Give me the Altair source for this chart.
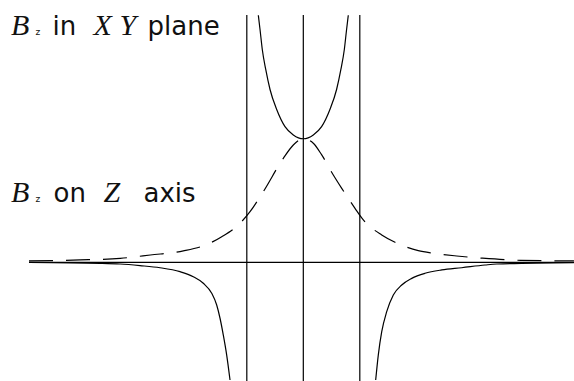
import altair as alt
import pandas as pd

# Field of a circular current loop (radius = 1), normalised to the centre value.
# Solid: B_z in the loop plane, inside the loop (diverges at r -> 1).
inner_x = [-0.796, -0.766, -0.726, -0.665, -0.589, -0.471, -0.324, -0.177, 0.0,
           0.177, 0.324, 0.471, 0.589, 0.665, 0.726, 0.766, 0.796]
inner_y = [2.00, 1.885, 1.723, 1.561, 1.399, 1.237, 1.098, 1.031, 1.0,
           1.031, 1.098, 1.237, 1.399, 1.561, 1.723, 1.885, 2.00]

# Solid: B_z in the loop plane, outside the loop (negative, returns to 0).
outer_left_x = [-4.855, -3.598, -3.242, -2.890, -2.536, -2.182, -1.947, -1.770,
                -1.621, -1.533, -1.474, -1.416, -1.356, -1.297]
outer_left_y = [0.0, -0.008, -0.014, -0.027, -0.044, -0.076, -0.117, -0.170,
                -0.251, -0.346, -0.453, -0.589, -0.751, -0.953]
outer_right_x = [1.281, 1.327, 1.388, 1.476, 1.593, 1.742, 1.919, 2.154, 2.450,
                 2.804, 3.216, 3.423, 4.79]
outer_right_y = [-0.953, -0.751, -0.562, -0.400, -0.265, -0.184, -0.130, -0.089,
                 -0.062, -0.044, -0.022, -0.014, -0.002]

# Dashed: B_z along the symmetry (Z) axis.
axis_x = [-4.855, -3.95, -3.24, -2.708, -2.124, -1.681, -1.444, -1.120, -0.943,
          -0.708, -0.354, -0.177, 0.0, 0.177, 0.326, 0.531, 0.680, 0.915, 1.062,
          1.388, 1.623, 2.035, 2.301, 2.715, 3.172, 3.844, 4.79]
axis_y = [0.011, 0.019, 0.032, 0.059, 0.092, 0.149, 0.207, 0.316, 0.410,
          0.572, 0.842, 0.950, 1.0, 0.964, 0.869, 0.707, 0.599, 0.437, 0.343,
          0.221, 0.162, 0.094, 0.073, 0.051, 0.033, 0.016, 0.011]

# Loop edges and centre.
markers_x = [-1.0, 0.0, 1.0]

X_DOMAIN = [-4.855, 4.791]
Y_DOMAIN = [-0.961, 2.002]
W, H = 545, 366
PAD_L, PAD_T = 29, 15

xs = alt.Scale(domain=X_DOMAIN, nice=False, zero=False)
ys = alt.Scale(domain=Y_DOMAIN, nice=False, zero=False)

plane = pd.concat([
    pd.DataFrame({"x": inner_x, "y": inner_y, "part": "inner"}),
    pd.DataFrame({"x": outer_left_x, "y": outer_left_y, "part": "left"}),
    pd.DataFrame({"x": outer_right_x, "y": outer_right_y, "part": "right"}),
])
on_axis = pd.DataFrame({"x": axis_x, "y": axis_y})
verticals = pd.DataFrame({"x": markers_x})

SW = 1.2

plane_line = alt.Chart(plane).mark_line(
    color="black", strokeWidth=SW, interpolate="monotone", clip=True
).encode(
    x=alt.X("x:Q", scale=xs, axis=None),
    y=alt.Y("y:Q", scale=ys, axis=None),
    detail="part:N",
)

axis_line = alt.Chart(on_axis).mark_line(
    color="black", strokeWidth=SW, strokeDash=[24, 13],
    interpolate="monotone", clip=True
).encode(
    x=alt.X("x:Q", scale=xs, axis=None),
    y=alt.Y("y:Q", scale=ys, axis=None),
)

vrules = alt.Chart(verticals).mark_rule(color="black", strokeWidth=1.2).encode(
    x=alt.X("x:Q", scale=xs, axis=None),
)

hrule = alt.Chart(alt.Data(values=[{"y": 0}])).mark_rule(
    color="black", strokeWidth=1.2
).encode(
    y=alt.Y("y:Q", scale=ys, axis=None),
)

SANS = "DejaVu Sans"
SERIF = "Liberation Serif"


def label(text, px, py, font=SANS, size=26, style="normal"):
    return alt.Chart(alt.Data(values=[{}])).mark_text(
        text=text, x=px - PAD_L, y=py - PAD_T, align="left",
        baseline="alphabetic", font=font, fontSize=size, fontStyle=style,
        color="#111111",
    )


texts = [
    label("B", 11, 35, SERIF, 30, "italic"),
    label("z", 35.5, 35, SANS, 9),
    label("in", 52.6, 35),
    label("X", 93.5, 35, SERIF, 30, "italic"),
    label("Y", 119.5, 35, SERIF, 30, "italic"),
    label("plane", 147.5, 35),
    label("B", 11, 201.7, SERIF, 30, "italic"),
    label("z", 35.5, 201.7, SANS, 9),
    label("on", 53.6, 201.7),
    label("Z", 103.5, 201.7, SERIF, 30, "italic"),
    label("axis", 143.5, 201.7),
]

chart = alt.layer(hrule, vrules, plane_line, axis_line, *texts).properties(
    width=W, height=H,
    autosize=alt.AutoSizeParams(type="none"),
    padding={"left": PAD_L, "top": PAD_T, "right": 0, "bottom": 0},
    background="white",
).configure_view(stroke=None)

chart.save("out.html", embed_options={"renderer": "svg", "actions": False})
